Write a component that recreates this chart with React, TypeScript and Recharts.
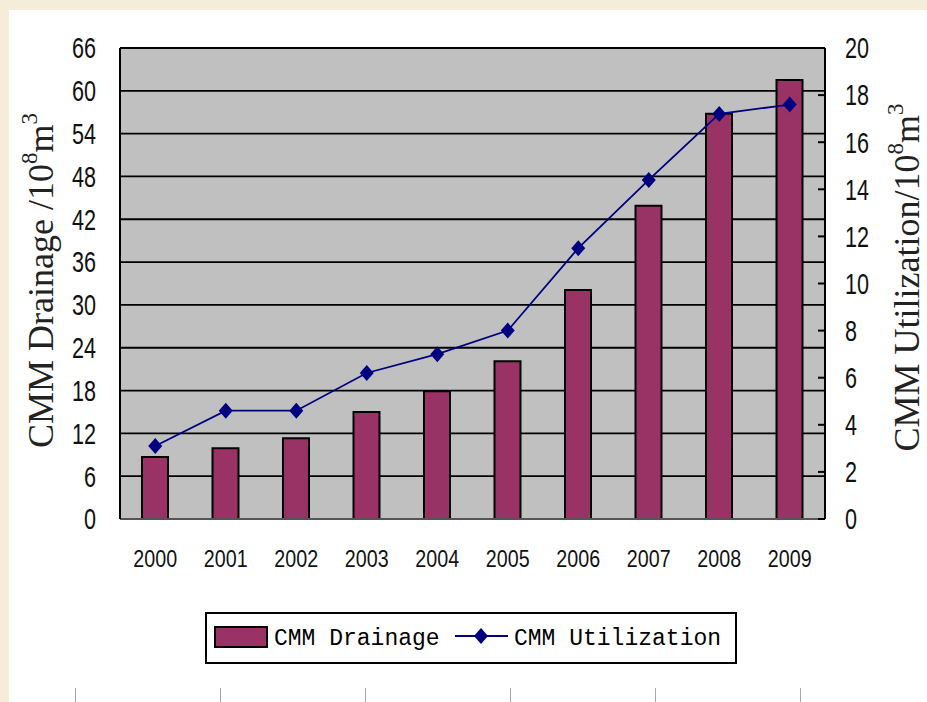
import { ComposedChart, Bar, Line, XAxis, YAxis, CartesianGrid, Legend } from 'recharts';

const years = ['2000', '2001', '2002', '2003', '2004', '2005', '2006', '2007', '2008', '2009'];
const drainage = [8.7, 9.9, 11.3, 15.0, 17.9, 22.1, 32.1, 43.9, 56.8, 61.5];
const utilization = [3.1, 4.6, 4.6, 6.2, 7.0, 8.0, 11.5, 14.4, 17.2, 17.6];
const leftTicks = [0, 6, 12, 18, 24, 30, 36, 42, 48, 54, 60, 66];
const rightTicks = [0, 2, 4, 6, 8, 10, 12, 14, 16, 18, 20];

const data = years.map((year, i) => ({
  year,
  drainage: drainage[i],
  utilization: utilization[i],
}));

const sans = "'Liberation Sans', Arial, sans-serif";
const serif = "'Liberation Serif', 'Times New Roman', serif";
const mono = "'Liberation Mono', 'DejaVu Sans Mono', monospace";

// narrow, tall tick labels (the original uses Arial Narrow)
const NarrowTick = (props: any) => {
  const { x, y, payload, textAnchor, size, squeeze } = props;
  return (
    <text
      transform={`translate(${x},${y}) scale(${squeeze},1)`}
      textAnchor={textAnchor}
      dominantBaseline="central"
      fontFamily={sans}
      fontSize={size}
      fill="#111"
    >
      {payload.value}
    </text>
  );
};

const renderDiamond = (props: any) => {
  const { cx, cy, index } = props;
  if (cx == null || cy == null) return null;
  return (
    <polygon
      key={`d-${index}`}
      points={`${cx},${cy - 8} ${cx + 7},${cy} ${cx},${cy + 8} ${cx - 7},${cy}`}
      fill="#000080"
    />
  );
};

const AxisTitle = ({ x, y, text }: { x: number; y: number; text: string }) => (
  <text
    x={x}
    y={y}
    transform={`rotate(-90 ${x} ${y})`}
    textAnchor="middle"
    dominantBaseline="central"
    fontFamily={serif}
    fontSize={36}
    fill="#222"
  >
    {text}
    <tspan dy={-12} fontSize={23}>8</tspan>
    <tspan dy={12}>m</tspan>
    <tspan dy={-12} fontSize={23}>3</tspan>
  </text>
);

const LeftTitle = (props: any) => {
  const { viewBox } = props;
  return <AxisTitle x={viewBox.x + 41} y={viewBox.y + viewBox.height / 2 - 3} text="CMM Drainage /10" />;
};

const RightTitle = (props: any) => {
  const { viewBox } = props;
  return <AxisTitle x={viewBox.x + 82} y={viewBox.y + viewBox.height / 2 - 6} text="CMM Utilization/10" />;
};

const LegendBox = () => (
  <svg width={534} height={54}>
    <rect x={1} y={1} width={530} height={50} fill="#fff" stroke="#000" strokeWidth={2} />
    <rect x={10} y={15} width={52} height={20} fill="#993366" stroke="#000" strokeWidth={2} />
    <text x={69} y={33} fontFamily={mono} fontSize={23} fill="#000">
      CMM Drainage
    </text>
    <line x1={250} y1={24} x2={303} y2={24} stroke="#000080" strokeWidth={2} />
    <polygon points="276,16 283,24 276,32 269,24" fill="#000080" />
    <text x={309} y={33} fontFamily={mono} fontSize={23} fill="#000">
      CMM Utilization
    </text>
  </svg>
);

const bottomMarks = [75, 220, 365, 510, 655, 800];

export default function App() {
  return (
    <div style={{ position: 'fixed', left: 0, top: 0, width: 927, height: 702, background: '#f5ecda', overflow: 'hidden' }}>
      <div style={{ position: 'absolute', left: 9, top: 10, right: 0, bottom: 0, background: '#fff' }} />
      {bottomMarks.map((x) => (
        <div key={x} style={{ position: 'absolute', left: x, top: 688, width: 1, height: 14, background: '#aaa' }} />
      ))}
      <div style={{ position: 'absolute', left: 0, top: 0 }}>
        <ComposedChart width={927} height={702} data={data} margin={{ top: 48, right: 0, bottom: 153, left: 0 }} barSize={26}>
          <CartesianGrid yAxisId="left" vertical={false} stroke="#000" strokeWidth={1.8} fill="#c0c0c0" />
          <XAxis
            dataKey="year"
            height={30}
            tickLine={false}
            axisLine={{ stroke: '#555', strokeWidth: 2 }}
            tickSize={6}
            tickMargin={34}
            tick={<NarrowTick size={24} squeeze={0.82} />}
            interval={0}
          />
          <YAxis
            yAxisId="left"
            orientation="left"
            width={120}
            domain={[0, 66]}
            ticks={leftTicks}
            interval={0}
            tickLine={false}
            tickSize={6}
            tickMargin={18}
            axisLine={{ stroke: '#000', strokeWidth: 2 }}
            tick={<NarrowTick size={30} squeeze={0.72} />}
            label={{ content: LeftTitle }}
          />
          <YAxis
            yAxisId="right"
            orientation="right"
            width={102}
            domain={[0, 20]}
            ticks={rightTicks}
            interval={0}
            tickSize={-7}
            tickMargin={27}
            tickLine={{ stroke: '#000', strokeWidth: 2 }}
            axisLine={{ stroke: '#000', strokeWidth: 2 }}
            tick={<NarrowTick size={30} squeeze={0.72} />}
            label={{ content: RightTitle }}
          />
          <Bar yAxisId="left" dataKey="drainage" fill="#993366" stroke="#000" strokeWidth={2} isAnimationActive={false} />
          <Line
            yAxisId="right"
            dataKey="utilization"
            type="linear"
            stroke="#000080"
            strokeWidth={1.8}
            dot={renderDiamond}
            activeDot={false}
            isAnimationActive={false}
          />
          <Legend
            layout="horizontal"
            verticalAlign="middle"
            align="center"
            content={LegendBox}
            wrapperStyle={{ position: 'absolute', left: 205, top: 612, width: 534, height: 54 }}
          />
        </ComposedChart>
      </div>
    </div>
  );
}
